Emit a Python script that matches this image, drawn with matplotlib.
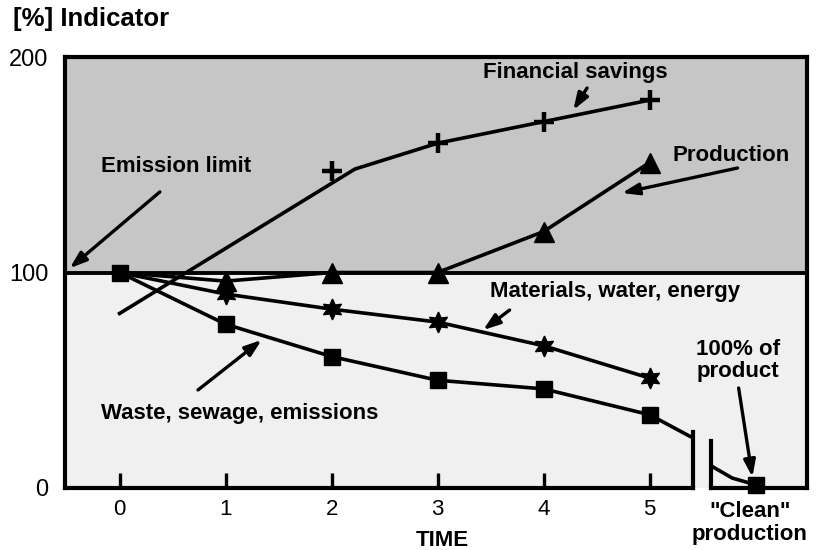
import matplotlib.pyplot as plt

plt.rcParams['font.family'] = ['Liberation Sans', 'DejaVu Sans']

# Datos
tiempo = [0, 1, 2, 3, 4, 5]
ahorro_linea_x = [0, 2.22, 3, 4, 5]
ahorro_linea_y = [81, 148, 160, 170, 180]
ahorro_marcas_x = [2, 3, 4, 5]
ahorro_marcas_y = [147, 160, 170, 180]
produccion = [100, 96, 100, 100, 119, 151]
materiales = [100, 90, 83, 77, 66, 51]
residuos = [100, 76, 61, 50, 46, 34]
residuos_fin_x = [5, 5.38]
residuos_fin_y = [34, 24]
limpia_x = [5.59, 5.78, 6]
limpia_y = [10, 4.6, 1.5]
limite = 100

corte = (5.41, 5.58)
xmin, xmax = -0.515, 6.485

fig = plt.figure(figsize=(8.16, 5.5), dpi=100)
ax = fig.add_axes([65 / 816, 1 - 488 / 550, 742 / 816, 431 / 550])
ax.set_xlim(xmin, xmax)
ax.set_ylim(0, 200)

# Fondos arriba y abajo del limite
ax.axhspan(limite, 200, color='#c6c6c6', zorder=0)
ax.axhspan(0, limite, color='#f0f0f0', zorder=0)
ax.axhline(limite, color='black', lw=2.8, zorder=2)

lw = 2.6
ax.plot(ahorro_linea_x, ahorro_linea_y, color='black', lw=lw, zorder=3)
ax.plot(ahorro_marcas_x, ahorro_marcas_y, ls='none', marker='+', ms=15, mew=3.2,
        color='black', zorder=4)
ax.plot(tiempo, produccion, color='black', lw=lw, zorder=3)
ax.plot(tiempo[1:], produccion[1:], ls='none', marker='^', ms=15, color='black', zorder=4)
ax.plot(tiempo, materiales, color='black', lw=lw, zorder=3)
ax.plot(tiempo[1:], materiales[1:], ls='none', marker=(6, 1, 0), ms=15, color='black', zorder=4)
ax.plot(tiempo, residuos, color='black', lw=lw, marker='s', ms=12, zorder=4)
ax.plot(residuos_fin_x, residuos_fin_y, color='black', lw=lw, zorder=3)
ax.plot(limpia_x, limpia_y, color='black', lw=lw, zorder=3)
ax.plot(limpia_x[-1:], limpia_y[-1:], ls='none', marker='s', ms=12, color='black',
        clip_on=False, zorder=5)

# Ejes con el corte en el eje x
for lado in ['left', 'top', 'right']:
    ax.spines[lado].set_linewidth(3)
ax.spines['bottom'].set_visible(False)
ax.plot([xmin, corte[0]], [0, 0], color='black', lw=3, clip_on=False, zorder=6,
        solid_capstyle='projecting')
ax.plot([corte[1], xmax], [0, 0], color='black', lw=3, clip_on=False, zorder=6,
        solid_capstyle='projecting')
ax.plot([corte[0], corte[0]], [0, 26], color='black', lw=3, clip_on=False, zorder=6)
ax.plot([corte[1], corte[1]], [0, 22], color='black', lw=3, clip_on=False, zorder=6)

ax.set_xticks(tiempo)
ax.set_xticklabels([str(t) for t in tiempo])
ax.set_yticks([0, 100, 200])
ax.tick_params(axis='x', direction='in', length=11, width=2.4, labelsize=16, pad=8)
ax.tick_params(axis='y', length=0, labelsize=17, pad=12)

flecha = dict(arrowstyle='-|>,head_length=1.0,head_width=0.35', color='black', lw=2.4,
              shrinkA=0, shrinkB=0)
txt = dict(fontsize=16, fontweight='bold', ha='center', va='center')

ax.annotate('', xy=(4.28, 175.4), xytext=(4.41, 185.6), arrowprops=flecha)
ax.text(4.30, 192.6, 'Financial savings', **txt)
ax.annotate('', xy=(4.74, 136.9), xytext=(5.83, 148.5), arrowprops=flecha)
ax.text(5.77, 154.5, 'Production', **txt)
ax.annotate('', xy=(-0.47, 102), xytext=(0.38, 137.4), arrowprops=flecha)
ax.text(0.53, 149, 'Emission limit', **txt)
ax.annotate('', xy=(3.43, 73.3), xytext=(3.68, 82.6), arrowprops=flecha)
ax.text(4.67, 91, 'Materials, water, energy', **txt)
ax.annotate('', xy=(1.34, 68.7), xytext=(0.74, 45.5), arrowprops=flecha)
ax.text(1.13, 34.8, 'Waste, sewage, emissions', **txt)
ax.annotate('', xy=(5.97, 5.1), xytext=(5.84, 46.4), arrowprops=flecha)
ax.text(5.83, 59, '100% of\nproduct', linespacing=1.05, **txt)

fig.text(442 / 816, 1 - 540 / 550, 'TIME', **txt)
fig.text(750 / 816, 1 - 523 / 550, '"Clean"\nproduction', linespacing=1.1, **txt)
fig.text(13 / 816, 1 - 19 / 550, '[%] Indicator', fontsize=18.5, fontweight='semibold',
         ha='left', va='center')

fig.savefig('out.png', dpi=100)
